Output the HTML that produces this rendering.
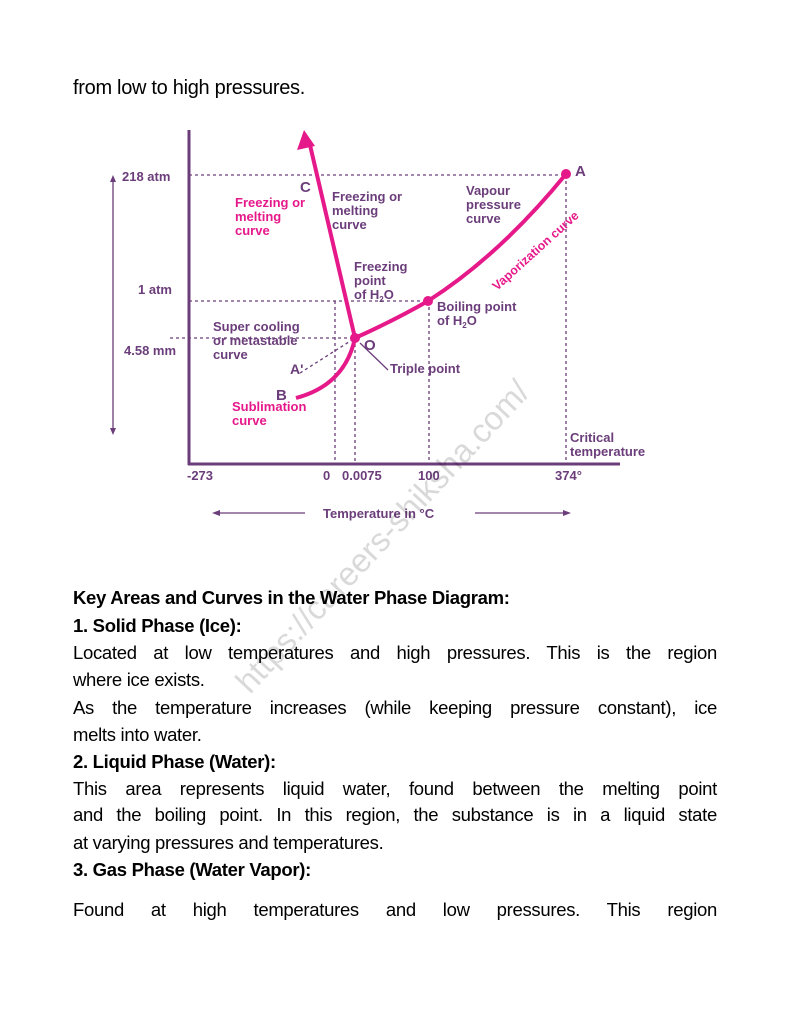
<!DOCTYPE html>
<html><head><meta charset="utf-8"><style>
body{margin:0;width:791px;height:1024px;background:#fff;position:relative;overflow:hidden;font-family:"Liberation Sans",sans-serif;color:#000}
.l{position:absolute;left:73px;width:644px;font-size:18.5px;line-height:24px;white-space:nowrap;letter-spacing:-0.3px}
.j{text-align:justify;text-align-last:justify;white-space:normal}
.b{font-weight:bold}
svg text{font-family:"Liberation Sans",sans-serif;font-weight:bold}
</style></head><body>
<div class="l" style="top:76px;font-size:20px">from low to high pressures.</div>
<svg width="791" height="1024" style="position:absolute;left:0;top:0">
<g stroke="#6b3d7a" fill="none">
<line x1="189" y1="130" x2="189" y2="465" stroke-width="3"/>
<line x1="188" y1="464" x2="620" y2="464" stroke-width="3"/>
<g stroke-dasharray="3,3" stroke-width="1.3">
<line x1="189" y1="175" x2="566" y2="175"/>
<line x1="189" y1="301" x2="428" y2="301"/>
<line x1="170" y1="338" x2="355" y2="338"/>
<line x1="335" y1="301" x2="335" y2="464"/>
<line x1="355" y1="338" x2="355" y2="464"/>
<line x1="429" y1="301" x2="429" y2="464"/>
<line x1="566" y1="175" x2="566" y2="464"/>
<line x1="300" y1="373" x2="352" y2="340"/>
</g>
<line x1="113" y1="180" x2="113" y2="430" stroke-width="1.3"/>
<line x1="215" y1="513" x2="305" y2="513" stroke-width="1.3"/>
<line x1="475" y1="513" x2="567" y2="513" stroke-width="1.3"/>
<line x1="360" y1="343" x2="388" y2="370" stroke-width="1.3"/>
</g>
<g fill="#6b3d7a"><polygon points="113,175 110,182 116,182"/><polygon points="113,435 110,428 116,428"/><polygon points="212,513 220,510 220,516"/><polygon points="571,513 563,510 563,516"/></g>
<g stroke="#e6198a" fill="none" stroke-width="4">
<line x1="355" y1="338" x2="310" y2="145"/>
<path d="M296,398 Q345,385 355,338"/>
<path d="M355,338 Q395,320 428,301 Q500,255 566,174"/>
</g>
<polygon points="304,130 297,150 315,146" fill="#e6198a"/>
<g fill="#e6198a"><circle cx="355" cy="338" r="5"/><circle cx="428" cy="301" r="5"/><circle cx="566" cy="174" r="5"/></g>
<g font-size="13" fill="#6b3d7a">
<text x="122" y="181">218 atm</text><text x="138" y="294">1 atm</text><text x="124" y="355">4.58 mm</text>
<text x="300" y="192" font-size="15">C</text>
<text x="332" y="201">Freezing or</text><text x="332" y="215">melting</text><text x="332" y="229">curve</text>
<text x="466" y="195">Vapour</text><text x="466" y="209">pressure</text><text x="466" y="223">curve</text>
<text x="575" y="176" font-size="15">A</text>
<text x="354" y="271">Freezing</text><text x="354" y="285">point</text><text x="354" y="299">of H<tspan font-size="8" dy="3">2</tspan><tspan dy="-3">O</tspan></text>
<text x="437" y="311">Boiling point</text><text x="437" y="325">of H<tspan font-size="8" dy="3">2</tspan><tspan dy="-3">O</tspan></text>
<text x="213" y="331">Super cooling</text><text x="213" y="345">or metastable</text><text x="213" y="359">curve</text>
<text x="364" y="350" font-size="15">O</text>
<text x="290" y="374" font-size="14">A'</text>
<text x="390" y="373">Triple point</text>
<text x="276" y="400" font-size="15">B</text>
<text x="570" y="442">Critical</text><text x="570" y="456">temperature</text>
<text x="187" y="480">-273</text><text x="323" y="480">0</text><text x="342" y="480">0.0075</text><text x="418" y="480">100</text><text x="555" y="480">374°</text>
<text x="323" y="518">Temperature in °C</text>
</g>
<g font-size="13" fill="#e6198a">
<text x="235" y="207">Freezing or</text><text x="235" y="221">melting</text><text x="235" y="235">curve</text>
<text x="232" y="411">Sublimation</text><text x="232" y="425">curve</text>
<text transform="translate(497,291) rotate(-42)" font-size="12.5">Vaporization curve</text>
</g>
<text transform="translate(250,695) rotate(-47)" font-size="33" fill="#000" fill-opacity="0.15" style="font-weight:normal">https://careers-shiksha.com/</text>
</svg>
<div class="l b" style="top:586px">Key Areas and Curves in the Water Phase Diagram:</div>
<div class="l b" style="top:614px">1. Solid Phase (Ice):</div>
<div class="l j" style="top:641px">Located at low temperatures and high pressures. This is the region</div>
<div class="l" style="top:668px">where ice exists.</div>
<div class="l j" style="top:696px">As the temperature increases (while keeping pressure constant), ice</div>
<div class="l" style="top:723px">melts into water.</div>
<div class="l b" style="top:750px">2. Liquid Phase (Water):</div>
<div class="l j" style="top:777px">This area represents liquid water, found between the melting point</div>
<div class="l j" style="top:803px">and the boiling point. In this region, the substance is in a liquid state</div>
<div class="l" style="top:831px">at varying pressures and temperatures.</div>
<div class="l b" style="top:858px">3. Gas Phase (Water Vapor):</div>
<div class="l j" style="top:898px">Found at high temperatures and low pressures. This region</div>
</body></html>
